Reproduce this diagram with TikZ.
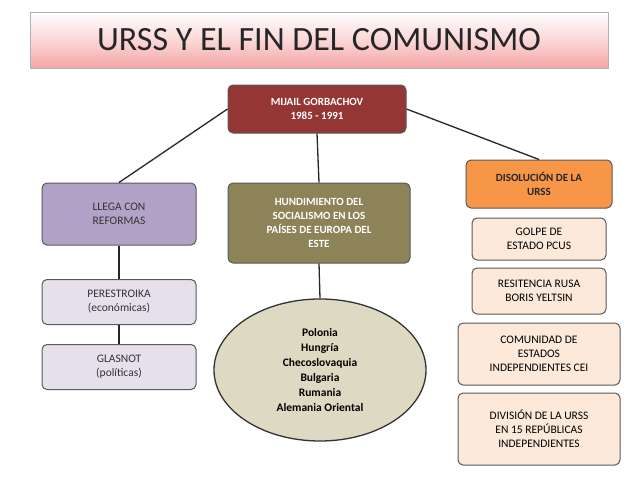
\documentclass[tikz,border=0pt]{standalone}
\usepackage{fontspec}
\setmainfont{Carlito}
\usetikzlibrary{shapes.geometric}
\definecolor{gred}{HTML}{943634}
\definecolor{lav}{HTML}{B3A2C7}
\definecolor{lavl}{HTML}{E6E0EC}
\definecolor{oliv}{HTML}{8C8458}
\definecolor{oran}{HTML}{F79646}
\definecolor{peach}{HTML}{FDE9D9}
\definecolor{tan}{HTML}{DDD9C3}
\definecolor{pk}{HTML}{F4A6A6}
\begin{document}
\begin{tikzpicture}[x=1pt,y=-1pt,
 box/.style={draw=gray!70!black,line width=1pt,rounded corners=5pt,align=center,font=\fontsize{11.5}{14}\selectfont,inner sep=2pt},
 bbox/.style={box,font=\bfseries\fontsize{11}{14}\selectfont},
 conn/.style={line width=1.3pt,black!85}]
\useasboundingbox[fill=white] (0,0) rectangle (640,479);
\node[draw=gray!60,top color=white,bottom color=pk,middle color=pk!45,minimum width=578pt,minimum height=56pt,font=\fontsize{34}{36}\selectfont,text=black!85] (t) at (319,40) {URSS Y EL FIN DEL COMUNISMO};
\node[bbox,fill=gred,text=white,minimum width=178pt,minimum height=48pt] (g) at (317,109) {MIJAIL GORBACHOV\\1985 - 1991};
\node[box,fill=lav,text=black!80,minimum width=154pt,minimum height=62pt] (l) at (119,214) {LLEGA CON\\REFORMAS};
\node[bbox,fill=oliv,text=white,minimum width=182pt,minimum height=80pt] (m) at (319,223) {HUNDIMIENTO DEL\\SOCIALISMO EN LOS\\PAÍSES DE EUROPA DEL\\ESTE};
\node[bbox,fill=oran,text=black!85,minimum width=146pt,minimum height=48pt] (r) at (539,184) {DISOLUCIÓN DE LA\\URSS};
\node[box,fill=lavl,text=black!80,minimum width=154pt,minimum height=45pt] (p) at (119,302) {PERESTROIKA\\(económicas)};
\node[box,fill=lavl,text=black!80,minimum width=154pt,minimum height=45pt] (gl) at (119,367) {GLASNOT\\(políticas)};
\node[ellipse,draw=black!80,line width=1.3pt,fill=tan,minimum width=212pt,minimum height=142pt,align=center,font=\bfseries\fontsize{11.5}{15}\selectfont] (e) at (320,370) {Polonia\\Hungría\\Checoslovaquia\\Bulgaria\\Rumania\\Alemania Oriental};
\node[box,fill=peach,minimum width=134pt,minimum height=42pt] (r1) at (539,239) {GOLPE DE\\ESTADO PCUS};
\node[box,fill=peach,minimum width=134pt,minimum height=46pt] (r2) at (539,291) {RESITENCIA RUSA\\BORIS YELTSIN};
\node[box,fill=peach,minimum width=162pt,minimum height=62pt] (r3) at (539,354) {COMUNIDAD DE\\ESTADOS\\INDEPENDIENTES CEI};
\node[box,fill=peach,minimum width=162pt,minimum height=72pt] (r4) at (539,429) {DIVISIÓN DE LA URSS\\EN 15 REPÚBLICAS\\INDEPENDIENTES};
\draw[conn] (g.west) -- (l.north);
\draw[conn] (g.south) -- (m.north);
\draw[conn] (g.east) -- (r.north);
\draw[conn] (l.south) -- (p.north);
\draw[conn] (p.south) -- (gl.north);
\draw[conn] (m.south) -- (e.north);
\end{tikzpicture}
\end{document}
